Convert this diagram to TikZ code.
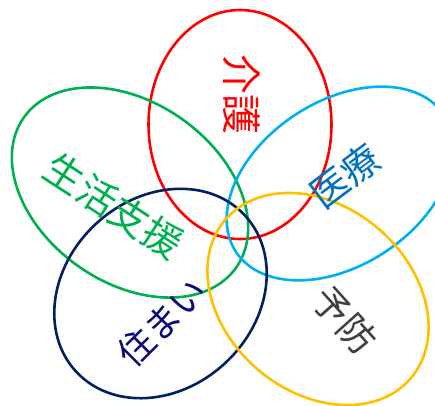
\documentclass[tikz,border=0pt]{standalone}
\usepackage{fontspec}
\setmainfont{Noto Sans CJK JP}
\definecolor{cred}{HTML}{FF0000}
\definecolor{cgreen}{HTML}{00B050}
\definecolor{cblue}{HTML}{00B0F0}
\definecolor{cblueT}{HTML}{0070C0}
\definecolor{cnavy}{HTML}{002060}
\definecolor{cnavyT}{HTML}{0A0A78}
\definecolor{cyellow}{HTML}{FFC000}
\definecolor{cgrayT}{HTML}{404040}
\tikzset{
  ring/.style={line width=2.6pt},
  lbl/.style={inner sep=0pt, font=\fontsize{#1}{#1}\selectfont},
}
\begin{document}
\begin{tikzpicture}[x=1pt,y=-1pt]
\useasboundingbox (0,0) rectangle (435,405);
\draw[ring, cred] (240,124.5) ellipse [x radius=91.5pt, y radius=114.5pt];
\draw[ring, cgreen] (130,192.5) ellipse [x radius=130pt, y radius=90pt, rotate=-35.3];
\draw[ring, cblue] (340,183.5) ellipse [x radius=124.5pt, y radius=82pt, rotate=33.4];
\draw[ring, cnavy] (160.5,293.5) ellipse [x radius=115pt, y radius=95pt, rotate=42.8];
\draw[ring, cyellow] (318,299) ellipse [x radius=122pt, y radius=92.7pt, rotate=-40.5];
\node[lbl=40, text=cred, rotate=-90] (kaigo) at (242,94.5) {介護};
\node[lbl=38, text=cblueT, rotate=37] (iryo) at (345,176) {医療};
\node[lbl=39, text=cgreen, rotate=-33] (seikatsu) at (114,206) {生活支援};
\node[lbl=36, text=cnavyT, rotate=45] (sumai) at (162,322) {住まい};
\node[lbl=37, text=cgrayT, rotate=-48] (yobo) at (344.5,320) {予防};
\end{tikzpicture}
\end{document}
